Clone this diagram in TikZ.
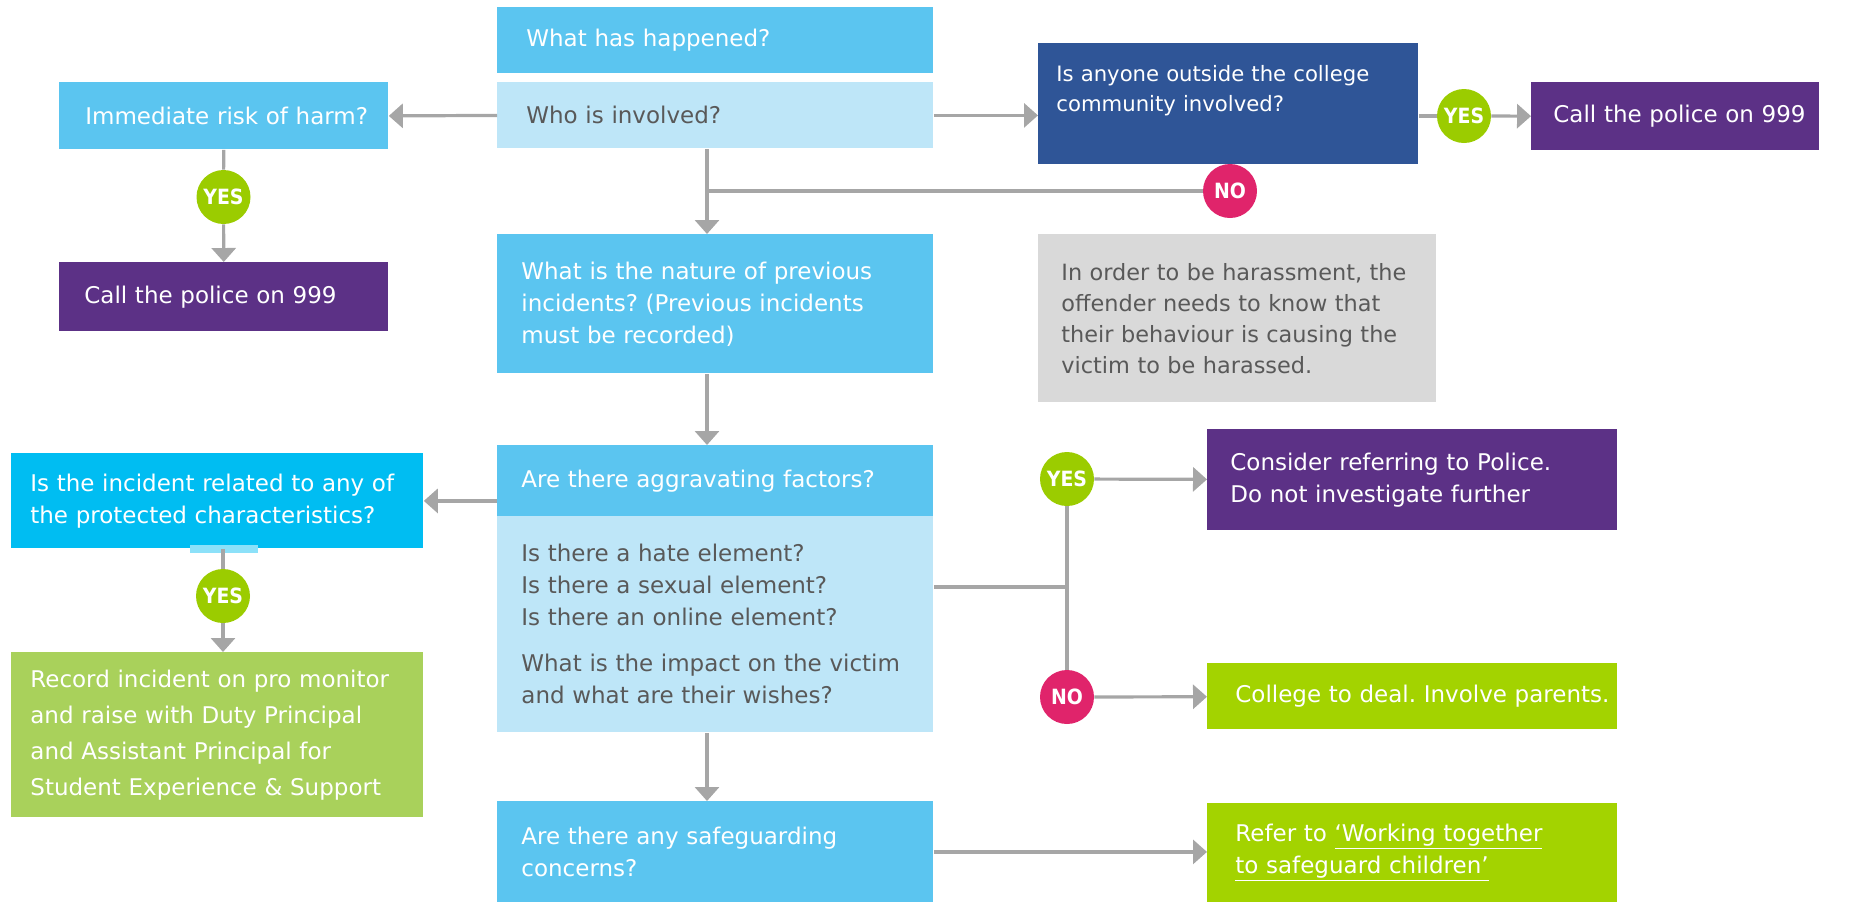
\documentclass[tikz,border=0pt]{standalone}
\usepackage{fontspec}
\setmainfont{DejaVu Sans}
\newfontfamily\badgefont[FakeStretch=0.9]{DejaVu Sans}
\usetikzlibrary{arrows.meta}
\frenchspacing
\definecolor{midblue}{HTML}{5BC5F0}
\definecolor{paleblue}{HTML}{BEE6F8}
\definecolor{brightblue}{HTML}{00BDF2}
\definecolor{navyblue}{HTML}{2F5597}
\definecolor{plum}{HTML}{5C3186}
\definecolor{leaf}{HTML}{A9D15B}
\definecolor{limegreen}{HTML}{A3D300}
\definecolor{yesgreen}{HTML}{9BCC00}
\definecolor{nored}{HTML}{E0246B}
\definecolor{notegrey}{HTML}{D9D9D9}
\definecolor{textgrey}{HTML}{595959}
\definecolor{linegrey}{HTML}{A6A6A6}
\tikzset{inset/.style={execute at begin node={\leftskip=#1\relax}}}
\tikzstyle{box}=[anchor=north west,inner sep=0pt,align=left,font=\fontsize{11.5}{16}\selectfont,inset=12pt]
\tikzstyle{bluebox}=[box,fill=midblue,text=white]
\tikzstyle{palebox}=[box,fill=paleblue,text=textgrey]
\tikzstyle{navybox}=[box,fill=navyblue,text=white]
\tikzstyle{plumbox}=[box,fill=plum,text=white]
\tikzstyle{cyanbox}=[box,fill=brightblue,text=white]
\tikzstyle{leafbox}=[box,fill=leaf,text=white]
\tikzstyle{limebox}=[box,fill=limegreen,text=white]
\tikzstyle{notebox}=[box,fill=notegrey,text=textgrey]
\tikzstyle{badge}=[circle,inner sep=0pt,minimum size=27pt,text=white,font=\badgefont\bfseries\fontsize{10.5}{10.5}\selectfont]
\tikzstyle{yesdot}=[badge,fill=yesgreen]
\tikzstyle{nodot}=[badge,fill=nored]
\tikzstyle{link}=[line width=1.6pt,draw=linegrey]
\tikzstyle{flow}=[link,-{Triangle[length=7pt,width=12pt]}]

\begin{document}
\begin{tikzpicture}[x=0.5pt,y=-0.5pt]
	\useasboundingbox (0,0) rectangle (1854,902);
	\coordinate (trunk) at (707,0);
	% top row
	\node[bluebox,text width=218pt,minimum height=33pt,inset=14.5pt] (happened) at (497,7) {What has happened?};
	\node[palebox,text width=218pt,minimum height=33pt,inset=14.5pt] (who) at (497,82) {Who is involved?};
	\node[bluebox,text width=164.5pt,minimum height=33.5pt,inset=13pt] (risk) at (59,82) {Immediate risk of harm?};
	\node[yesdot] (yes1) at (223.5,197) {YES};
	\node[plumbox,text width=164.5pt,minimum height=34.5pt,inset=12.5pt] (police1) at (59,262) {Call the police on 999};
	\node[navybox,text width=190pt,minimum height=60.5pt,inset=9pt,font=\fontsize{10.6}{15}\selectfont] (outside) at (1038,43) {Is anyone outside the college\\community involved?\\\mbox{}};
	\node[yesdot] (yes2) at (1464,116) {YES};
	\node[plumbox,text width=144pt,minimum height=34pt,inset=11pt] (police2) at (1531,82) {Call the police on 999};
	\node[nodot] (no1) at (1230,191) {NO};
	% middle
	\node[bluebox,text width=218pt,minimum height=69.5pt] (nature) at (497,234) {What is the nature of previous\\incidents? (Previous incidents\\must be recorded)};
	\node[notebox,text width=199pt,minimum height=84pt,inset=11.5pt,font=\fontsize{11.2}{15.5}\selectfont] (note) at (1038,234) {In order to be harassment, the\\offender needs to know that\\their behaviour is causing the\\victim to be harassed.};
	\node[bluebox,text width=218pt,minimum height=35.5pt] (aggr) at (497,445) {Are there aggravating factors?};
	\node[palebox,text width=218pt,minimum height=108pt] (detail) at (497,516) {Is there a hate element?\\Is there a sexual element?\\Is there an online element?\\[7pt]What is the impact on the victim\\and what are their wishes?};
	\node[cyanbox,text width=206pt,minimum height=47.5pt,inset=9.5pt] (incident) at (11,453) {Is the incident related to any of\\the protected characteristics?};
	\fill[brightblue!45!white] (190,545) rectangle (258,553);
	\node[yesdot] (yes3) at (223,596) {YES};
	\node[leafbox,text width=206pt,minimum height=82.5pt,inset=9.5pt,font=\fontsize{11.5}{18}\selectfont] (record) at (11,652) {Record incident on pro monitor\\and raise with Duty Principal\\and Assistant Principal for\\Student Experience \& Support};
	\node[yesdot] (yes4) at (1067,479) {YES};
	\node[nodot] (no2) at (1067,697) {NO};
	\node[plumbox,text width=205pt,minimum height=50.5pt,inset=11.5pt] (consider) at (1207,429) {Consider referring to Police.\\Do not investigate further};
	\node[limebox,text width=205pt,minimum height=33pt,inset=14pt] (college) at (1207,663) {College to deal. Involve parents.};
	% bottom row
	\node[bluebox,text width=218pt,minimum height=50.5pt] (safe) at (497,801) {Are there any safeguarding\\concerns?};
	\node[limebox,text width=205pt,minimum height=49.5pt,inset=14pt] (refer) at (1207,803) {Refer to \underline{‘Working together}\\\underline{to safeguard children’}};
	\coordinate (fork) at (1067,587);
	% connectors
	\draw[flow] (who.west) -- (risk.east);
	\draw[flow] (who.east) -- (who.east -| outside.west);
	\draw[link] (outside.east |- yes2) -- (yes2);
	\draw[flow] (yes2) -- (police2);
	\draw[link] (risk) -- (yes1);
	\draw[flow] (yes1) -- (police1);
	\draw[link] (no1) -- (trunk |- no1);
	\draw[flow] (trunk |- who.south) -- (trunk |- nature.north);
	\draw[flow] (trunk |- nature.south) -- (trunk |- aggr.north);
	\draw[flow] (aggr.west |- incident) -- (incident.east);
	\draw[link] (yes3 |- incident.south) -- (yes3);
	\draw[flow] (yes3) -- (yes3 |- record.north);
	\draw[link] (detail.east |- fork) -- (fork);
	\draw[link] (yes4) -- (no2);
	\draw[flow] (yes4) -- (consider);
	\draw[flow] (no2) -- (college);
	\draw[flow] (trunk |- detail.south) -- (trunk |- safe.north);
	\draw[flow] (safe.east) -- (safe.east -| refer.west);
\end{tikzpicture}
\end{document}
